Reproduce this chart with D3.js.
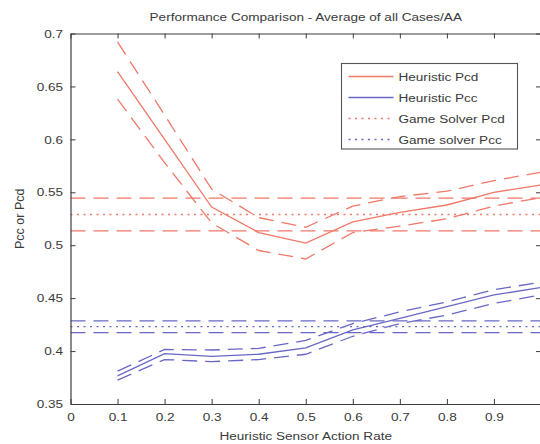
<!DOCTYPE html>
<html>
<head>
<meta charset="utf-8">
<script src="https://cdn.jsdelivr.net/npm/d3@7"></script>
<style>
  html, body { margin: 0; padding: 0; background: #fff; }
  svg { display: block; }
  text { font-family: "Liberation Sans", Arial, Helvetica, sans-serif; fill: #3a3a3a; }
</style>
</head>
<body>
<svg id="chart" width="540" height="444"></svg>
<script>
// Sensor action rates (x) and the measured averages with their confidence bounds
const rates = [0.1, 0.2, 0.3, 0.4, 0.5, 0.6, 0.7, 0.8, 0.9, 1.0];

const heuristicPcd      = [0.664, 0.600, 0.536, 0.512, 0.502, 0.522, 0.531, 0.538, 0.550, 0.557];
const heuristicPcdUpper = [0.692, 0.623, 0.553, 0.526, 0.517, 0.537, 0.546, 0.551, 0.561, 0.569];
const heuristicPcdLower = [0.638, 0.578, 0.521, 0.495, 0.487, 0.512, 0.518, 0.525, 0.537, 0.545];

const heuristicPcc      = [0.3765, 0.3975, 0.395, 0.397, 0.403, 0.420, 0.431, 0.442, 0.453, 0.460];
const heuristicPccUpper = [0.381, 0.4015, 0.401, 0.4025, 0.410, 0.426, 0.437, 0.4465, 0.458, 0.465];
const heuristicPccLower = [0.3725, 0.392, 0.390, 0.392, 0.397, 0.414, 0.426, 0.434, 0.445, 0.453];

// Game solver results are constant over the sensor rate
const gameSolverPcd      = 0.529;
const gameSolverPcdUpper = 0.5445;
const gameSolverPcdLower = 0.5135;
const gameSolverPcc      = 0.423;
const gameSolverPccUpper = 0.4285;
const gameSolverPccLower = 0.4175;

const xTicks = [0, 0.1, 0.2, 0.3, 0.4, 0.5, 0.6, 0.7, 0.8, 0.9];
const yTicks = [0.35, 0.4, 0.45, 0.5, 0.55, 0.6, 0.65, 0.7];

const legendLabels = ["Heuristic Pcd", "Heuristic Pcc", "Game Solver Pcd", "Game solver Pcc"];

const titleText = "Performance Comparison - Average of all Cases/AA";
const xLabelText = "Heuristic Sensor Action Rate";
const yLabelText = "Pcc or Pcd";

// ---- layout ----
const svg = d3.select("#chart");
const plotLeft = 70.5, plotRight = 541, plotTop = 33.5, plotBottom = 404;
const sx = 1.18;          // horizontal stretch of the lettering
const fontSize = 11.5;

const RED = "#f07868";
const BLUE = "#6868c4";

const x = d3.scaleLinear().domain([0, 1]).range([plotLeft, plotRight]);
const y = d3.scaleLinear().domain([0.35, 0.7]).range([plotBottom, plotTop]);

svg.append("defs").append("clipPath").attr("id", "plotClip")
  .append("rect").attr("x", plotLeft).attr("y", plotTop)
  .attr("width", plotRight - plotLeft).attr("height", plotBottom - plotTop);

const plot = svg.append("g").attr("clip-path", "url(#plotClip)");

const line = d3.line().x(d => x(d[0])).y(d => y(d[1]));
const zipSeries = vals => rates.map((r, i) => [r, vals[i]]);
const flat = v => x.domain().map(d => [d, v]);

const DASH = "15,8";
const DOT = "2,4.5";

function drawLine(data, color, dash, width) {
  plot.append("path")
    .datum(data)
    .attr("d", line)
    .attr("fill", "none")
    .attr("stroke", color)
    .attr("stroke-width", width || 1.3)
    .attr("stroke-dasharray", dash || null);
}

// Game solver constant lines
drawLine(flat(gameSolverPcdUpper), RED, DASH);
drawLine(flat(gameSolverPcd), RED, DOT);
drawLine(flat(gameSolverPcdLower), RED, DASH);
drawLine(flat(gameSolverPccUpper), BLUE, DASH);
drawLine(flat(gameSolverPcc), BLUE, DOT);
drawLine(flat(gameSolverPccLower), BLUE, DASH);

// Heuristic curves with bounds
drawLine(zipSeries(heuristicPcdUpper), RED, DASH);
drawLine(zipSeries(heuristicPcdLower), RED, DASH);
drawLine(zipSeries(heuristicPcd), RED);
drawLine(zipSeries(heuristicPccUpper), BLUE, DASH);
drawLine(zipSeries(heuristicPccLower), BLUE, DASH);
drawLine(zipSeries(heuristicPcc), BLUE);

// ---- axes (MATLAB style box with inward ticks) ----
const fmtX = d => d === 0 ? "0" : d3.format(".1f")(d);
const fmtY = d => String(+d.toFixed(2));
const tickLen = 5;

function styleAxis(g) {
  g.selectAll("path.domain").attr("stroke", "#3c3c3c").attr("stroke-width", 1.2);
  g.selectAll(".tick line").attr("stroke", "#3c3c3c").attr("stroke-width", 1);
  g.selectAll("text").attr("font-size", fontSize).attr("fill", "#3a3a3a")
    .attr("font-family", '"Liberation Sans", Arial, sans-serif');
}

const gx = svg.append("g").attr("transform", `translate(0,${plotBottom})`)
  .call(d3.axisBottom(x).tickValues(xTicks).tickFormat(fmtX)
    .tickSizeInner(-tickLen).tickSizeOuter(0).tickPadding(8.5));
styleAxis(gx);
gx.selectAll(".tick text").attr("transform", `scale(${sx},1)`);

const gy = svg.append("g").attr("transform", `translate(${plotLeft},0)`)
  .call(d3.axisLeft(y).tickValues(yTicks).tickFormat(fmtY)
    .tickSizeInner(-tickLen).tickSizeOuter(0).tickPadding(7.5 / sx));
styleAxis(gy);
gy.selectAll(".tick text").attr("transform", `scale(${sx},1)`);

const gt = svg.append("g").attr("transform", `translate(0,${plotTop})`)
  .call(d3.axisTop(x).tickValues(xTicks).tickFormat("")
    .tickSizeInner(-tickLen).tickSizeOuter(0));
styleAxis(gt);

const gr = svg.append("g").attr("transform", `translate(${plotRight},0)`)
  .call(d3.axisRight(y).tickValues(yTicks).tickFormat("")
    .tickSizeInner(-tickLen).tickSizeOuter(0));
styleAxis(gr);

// ---- titles ----
const midX = (plotLeft + plotRight) / 2;
svg.append("text")
  .attr("transform", `translate(${midX},21) scale(${sx},1)`)
  .attr("text-anchor", "middle")
  .attr("font-size", fontSize)
  .text(titleText);

svg.append("text")
  .attr("transform", `translate(${midX},440) scale(${sx},1)`)
  .attr("text-anchor", "middle")
  .attr("font-size", fontSize)
  .text(xLabelText);

svg.append("text")
  .attr("transform", `translate(24,${(plotTop + plotBottom) / 2}) rotate(-90)`)
  .attr("text-anchor", "middle")
  .attr("font-size", 12.5)
  .text(yLabelText);

// ---- legend ----
const legend = svg.append("g").attr("transform", "translate(341.5,63.5)");
legend.append("rect")
  .attr("width", 176).attr("height", 85.5)
  .attr("fill", "#fff").attr("stroke", "#555").attr("stroke-width", 1.1);

const legendStyles = [
  { color: RED, dash: null },
  { color: BLUE, dash: null },
  { color: RED, dash: DOT },
  { color: BLUE, dash: DOT }
];

legendLabels.forEach((label, i) => {
  const row = legend.append("g").attr("transform", `translate(0,${13 + i * 21})`);
  row.append("line")
    .attr("x1", 7).attr("x2", 52).attr("y1", 0).attr("y2", 0)
    .attr("stroke", legendStyles[i].color).attr("stroke-width", 1.3)
    .attr("stroke-dasharray", legendStyles[i].dash);
  row.append("text")
    .attr("transform", `translate(57,4.2) scale(${sx},1)`)
    .attr("font-size", fontSize)
    .attr("fill", "#2a2a2a")
    .text(label);
});
</script>
</body>
</html>
